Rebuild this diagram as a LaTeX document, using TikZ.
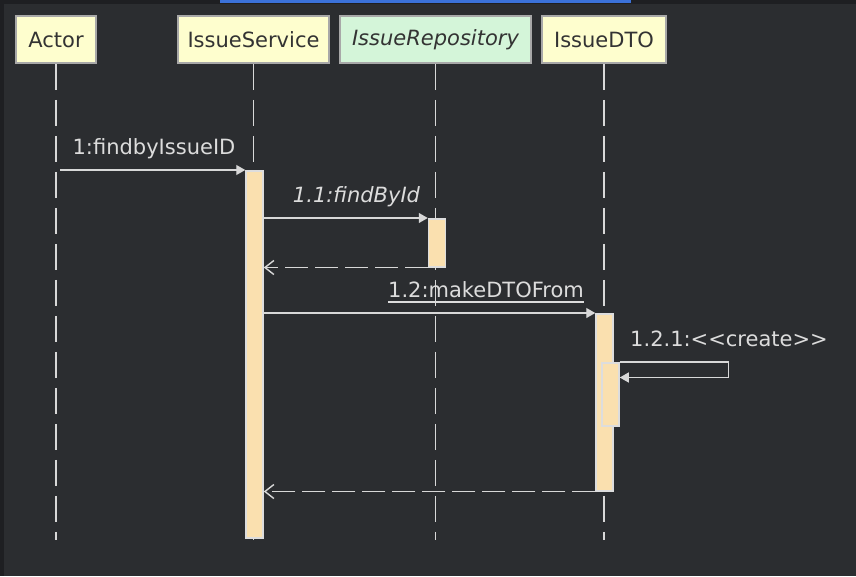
\documentclass[tikz,border=0pt]{standalone}
\usepackage{fontspec}
\setmainfont{DejaVu Sans}
\usetikzlibrary{arrows.meta,calc}
\definecolor{bg}{HTML}{2B2D30}
\definecolor{frame}{HTML}{1E1F22}
\definecolor{topblue}{HTML}{3B72DA}
\definecolor{linec}{HTML}{D8D8D8}
\definecolor{actfill}{HTML}{FAE0AF}
\definecolor{actdraw}{HTML}{DDDDDD}
\definecolor{yel}{HTML}{FEFECE}
\definecolor{grn}{HTML}{D4F5D9}
\definecolor{headdraw}{HTML}{A8A8A8}
\definecolor{headtext}{HTML}{333333}
\definecolor{lbltext}{HTML}{DCDCDC}
\begin{document}
\begin{tikzpicture}[x=1pt,y=-1pt,
  head/.style={draw=headdraw, line width=1.5pt, minimum height=47pt, inner sep=0pt,
    text=headtext, font=\fontsize{21}{25}\selectfont},
  lifeline/.style={linec, line width=1.3pt, dash pattern=on 26pt off 10pt},
  act/.style={draw=actdraw, fill=actfill, line width=1.5pt, minimum width=17pt, inner sep=0pt, anchor=north},
  msg/.style={linec, line width=1.3pt, -{Triangle[length=9pt,width=10pt]}},
  ret/.style={linec, line width=1.3pt, dash pattern=on 23pt off 7pt, -{Straight Barb[length=9pt,width=14pt,line width=1.4pt]}},
  lbl/.style={text=lbltext, inner sep=0pt, anchor=base, font=\fontsize{21}{25}\selectfont}
]
\useasboundingbox (0,0) rectangle (856,576);
\fill[bg] (0,0) rectangle (856,576);
\fill[frame] (0,0) rectangle (856,4);
\fill[frame] (0,0) rectangle (4,576);
\fill[topblue] (220,0) rectangle (631,3);

% heads
\node[head, fill=yel, minimum width=80pt] (actor) at (56,39.5) {Actor};
\node[head, fill=yel, minimum width=151pt] (svc) at (253.5,39.5) {IssueService};
\node[head, fill=grn, minimum width=191pt] (repo) at (435.5,39.5) {\itshape IssueRepository};
\node[head, fill=yel, minimum width=124pt] (dto) at (604,39.5) {IssueDTO};

% lifelines
\coordinate (bot) at (0,540);
\draw[lifeline] (actor.south) -- (actor.south |- bot);
\draw[lifeline] (svc.south) -- (svc.south |- bot);
\draw[lifeline] (repo.south) -- (repo.south |- bot);
\draw[lifeline] (dto.south) -- (dto.south |- bot);

% activations
\node[act, minimum height=367pt] (actS) at (254.5,170) {};
\node[act, minimum height=48pt] (actR) at (437,218) {};
\node[act, minimum height=177pt] (actD) at (604.5,313) {};
\node[act, minimum height=63pt] (actN) at (610.5,362) {};

% messages
\coordinate (m1s) at ($(actor.south |- actS.north)+(4,0)$);
\draw[msg] (m1s) -- (actS.north west);
\node[lbl] (l1) at (154,154) {1:findbyIssueID};

\draw[msg] (actS.east |- actR.north west) -- (actR.north west);
\node[lbl, font=\fontsize{21}{25}\selectfont\itshape] (l2) at (356.5,202) {1.1:findById};

\draw[ret] (actR.south west) -- (actS.east |- actR.south west);

\draw[msg] (actS.east |- actD.north west) -- (actD.north west);
\node[lbl] (l3) at (486,297) {1.2:makeDTOFrom};
\draw[lbltext, line width=1.2pt] ([yshift=-5pt]l3.base west) -- ([yshift=-5pt]l3.base east);

\coordinate (loopR) at ($(actN.north east)+(109,0)$);
\draw[msg] (actN.north east) -- (loopR) -- ++(0,15.5) -- ($(actN.north east)+(0,15.5)$);
\node[lbl] (l4) at (729,346) {1.2.1:<\kern0pt<create>\kern0pt>};

\draw[ret] (actD.south west) -- (actS.east |- actD.south west);
\end{tikzpicture}
\end{document}
